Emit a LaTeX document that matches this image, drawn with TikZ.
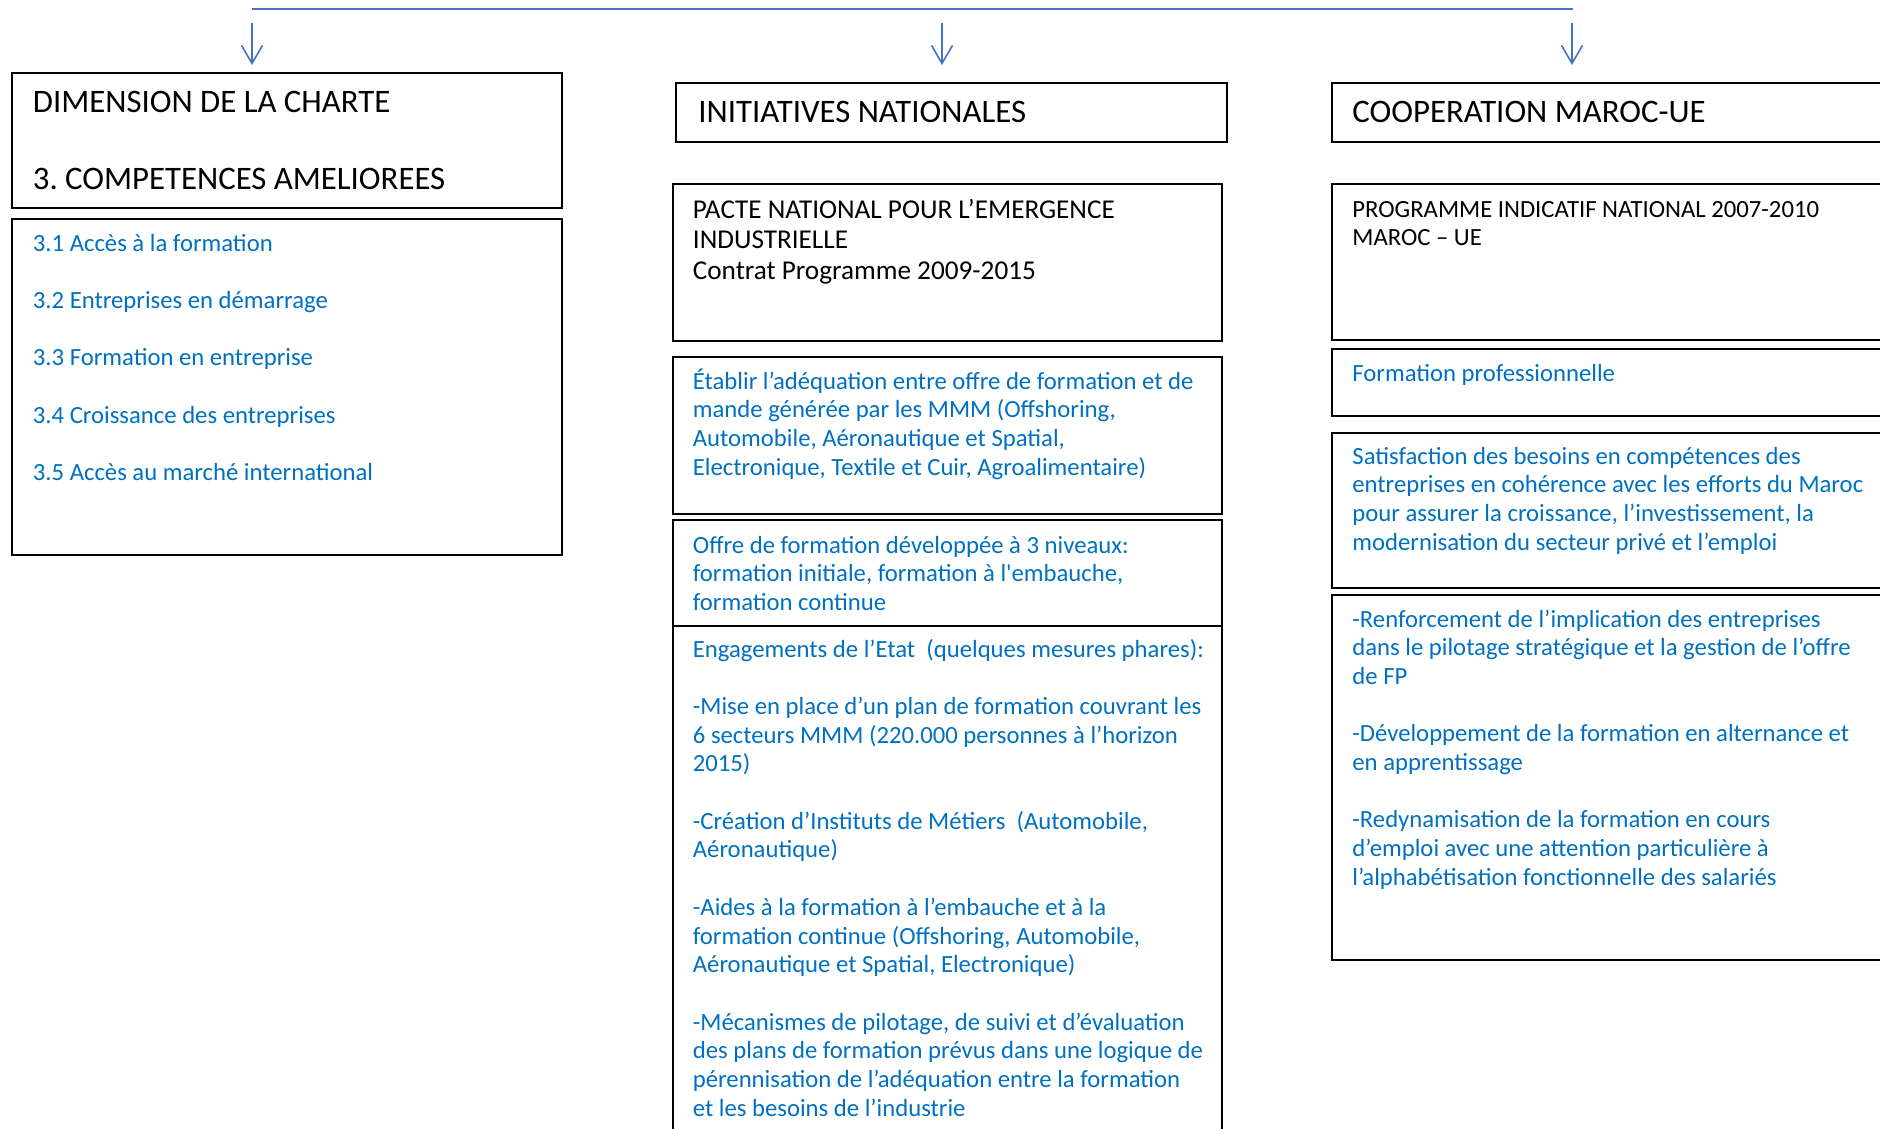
\documentclass[tikz,border=0pt]{standalone}
\usepackage{fontspec}
\setmainfont{Carlito}
\usepackage{tikz}
\usetikzlibrary{arrows.meta}
\definecolor{linkblue}{RGB}{68,114,196}
\definecolor{txtblue}{RGB}{0,112,192}
\tikzstyle{box} = [rectangle, draw=black, line width=1.1pt, inner sep=0pt, outer sep=0pt, anchor=north west]
\tikzstyle{headtext} = [anchor=base west, inner sep=0pt, text width=300pt, align=flush left, font=\fontsize{16.4}{19.25}\selectfont]
\tikzstyle{midtext} = [headtext, font=\fontsize{13.6}{15.5}\selectfont]
\tikzstyle{bodytext} = [headtext, font=\fontsize{12.35}{14.35}\selectfont]
\tikzstyle{bluetext} = [bodytext, text=txtblue]
\tikzstyle{arrow} = [draw=linkblue, line width=0.8pt, -{Straight Barb[length=9pt,width=10.5pt,line width=0.8pt]}]
\newcommand{\itemgap}{\\[14.35pt]}
\frenchspacing

\begin{document}
\begin{tikzpicture}[x=0.5pt, y=-0.5pt]
    \clip (0,0) rectangle (1880,1129);

    \coordinate (lineL) at (252,9);
    \coordinate (lineR) at (1573,9);
    \draw [linkblue, line width=0.8pt] (lineL) -- (lineR);
    \coordinate (s1) at (252,23);
    \coordinate (e1) at (252,65);
    \coordinate (s2) at (942,23);
    \coordinate (e2) at (942,65);
    \coordinate (s3) at (1572,23);
    \coordinate (e3) at (1572,65);
    \draw [arrow] (s1) -- (e1);
    \draw [arrow] (s2) -- (e2);
    \draw [arrow] (s3) -- (e3);

    \node (dim) [box, minimum width=275pt, minimum height=67.5pt] at (12,73) {};
    \node (comp) [box, minimum width=275pt, minimum height=168pt] at (12,219) {};
    \node (init) [box, minimum width=275.5pt, minimum height=29.5pt] at (676,83) {};
    \node (pacte) [box, minimum width=274.5pt, minimum height=78.5pt] at (673,184) {};
    \node (adeq) [box, minimum width=274.5pt, minimum height=78.5pt] at (673,357) {};
    \node (offre) [box, minimum width=274.5pt, minimum height=53pt] at (673,520) {};
    \node (engag) [box, minimum width=274.5pt, minimum height=259.5pt] at (673,626) {};
    \node (coop) [box, minimum width=284pt, minimum height=29.5pt] at (1332,83) {};
    \node (pin) [box, minimum width=284pt, minimum height=78pt] at (1332,184) {};
    \node (fp) [box, minimum width=284pt, minimum height=33.5pt] at (1332,349) {};
    \node (satis) [box, minimum width=284pt, minimum height=77.5pt] at (1332,433) {};
    \node (renf) [box, minimum width=284pt, minimum height=182.5pt] at (1332,595) {};

    \node (dimT) [headtext] at ([shift={(20.5,40)}]dim.north west) {DIMENSION DE LA CHARTE\\[19.25pt]3. COMPETENCES AMELIOREES};
    \node (compT) [bluetext] at ([shift={(20.5,32)}]comp.north west) {3.1 Accès à la formation\itemgap 3.2 Entreprises en démarrage\itemgap 3.3 Formation en entreprise\itemgap 3.4 Croissance des entreprises\itemgap 3.5 Accès au marché international};
    \node (initT) [headtext] at ([shift={(22,40)}]init.north west) {INITIATIVES NATIONALES};
    \node (pacteT) [midtext] at ([shift={(19.5,34)}]pacte.north west) {PACTE NATIONAL POUR L’EMERGENCE\\INDUSTRIELLE\\Contrat Programme 2009-2015};
    \node (adeqT) [bluetext] at ([shift={(19.5,32)}]adeq.north west) {Établir l’adéquation entre offre de formation et de\\mande générée par les MMM (Offshoring,\\Automobile, Aéronautique et Spatial,\\Electronique, Textile et Cuir, Agroalimentaire)};
    \node (offreT) [bluetext] at ([shift={(19.5,33)}]offre.north west) {Offre de formation développée à 3 niveaux:\\formation initiale, formation à l\textquotesingle embauche,\\formation continue};
    \node (engagT) [bluetext] at ([shift={(19.5,31)}]engag.north west) {Engagements de l’Etat\ \ (quelques mesures phares):\itemgap -Mise en place d’un plan de formation couvrant les\\6 secteurs MMM (220.000 personnes à l’horizon\\2015)\itemgap -Création d’Instituts de Métiers\ \ (Automobile,\\Aéronautique)\itemgap -Aides à la formation à l’embauche et à la\\formation continue (Offshoring, Automobile,\\Aéronautique et Spatial, Electronique)\itemgap -Mécanismes de pilotage, de suivi et d’évaluation\\des plans de formation prévus dans une logique de\\pérennisation de l’adéquation entre la formation\\et les besoins de l’industrie};
    \node (coopT) [headtext] at ([shift={(20,40)}]coop.north west) {COOPERATION MAROC-UE};
    \node (pinT) [bodytext] at ([shift={(20,33)}]pin.north west) {PROGRAMME INDICATIF NATIONAL 2007-2010\\MAROC – UE};
    \node (fpT) [bluetext] at ([shift={(20,32)}]fp.north west) {Formation professionnelle};
    \node (satisT) [bluetext] at ([shift={(20,31)}]satis.north west) {Satisfaction des besoins en compétences des\\entreprises en cohérence avec les efforts du Maroc\\pour assurer la croissance, l’investissement, la\\modernisation du secteur privé et l’emploi};
    \node (renfT) [bluetext] at ([shift={(20,32)}]renf.north west) {-Renforcement de l’implication des entreprises\\dans le pilotage stratégique et la gestion de l’offre\\de FP\itemgap -Développement de la formation en alternance et\\en apprentissage\itemgap -Redynamisation de la formation en cours\\d’emploi avec une attention particulière à\\l’alphabétisation fonctionnelle des salariés};
\end{tikzpicture}
\end{document}
